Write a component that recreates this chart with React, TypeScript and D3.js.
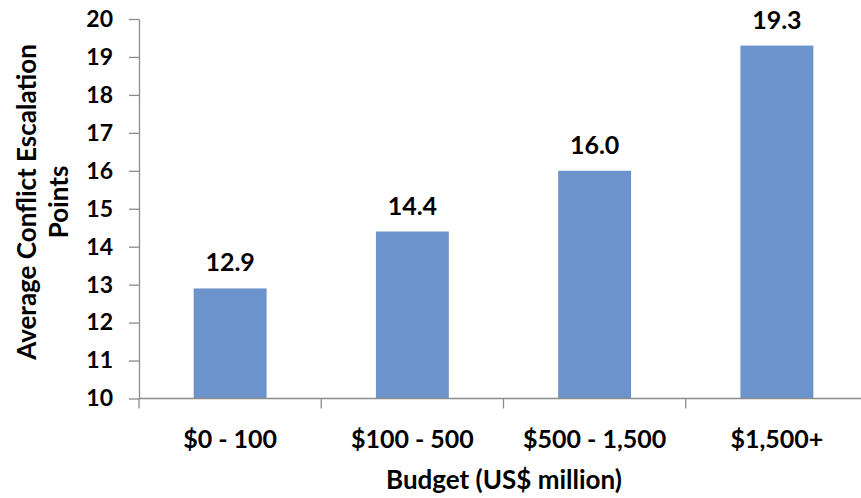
import React, { useEffect, useRef } from 'react';
import * as d3 from 'd3';

const categories = ['$0 - 100', '$100 - 500', '$500 - 1,500', '$1,500+'];
const values = [12.9, 14.4, 16.0, 19.3];
const yTicks = [10, 11, 12, 13, 14, 15, 16, 17, 18, 19, 20];
const yTitle = ['Average Conflict Escalation', 'Points'];
const xTitle = 'Budget (US$ million)';

const App: React.FC = () => {
  const svgRef = useRef<SVGSVGElement>(null);

  useEffect(() => {
    if (!svgRef.current) return;
    const svg = d3.select(svgRef.current);
    svg.selectAll('*').remove();

    const width = 861;
    const height = 498;
    const margin = { top: 19, right: -7, bottom: 99.5, left: 139 };
    const font = 'Lato, "Open Sans", sans-serif';
    const axisColor = '#8c8c8c';

    const x = d3.scaleBand<string>()
      .domain(categories)
      .range([margin.left, width - margin.right])
      .paddingInner(0.6)
      .paddingOuter(0.3);

    const y = d3.scaleLinear()
      .domain([10, 20])
      .range([height - margin.bottom, margin.top]);

    // Bars
    svg.append('g')
      .selectAll('rect')
      .data(values)
      .join('rect')
      .attr('x', (_, i) => x(categories[i])!)
      .attr('y', d => y(d))
      .attr('width', x.bandwidth())
      .attr('height', d => y(10) - y(d))
      .attr('fill', '#6C93CB');

    // Value labels
    svg.append('g')
      .selectAll('text')
      .data(values)
      .join('text')
      .attr('x', (_, i) => x(categories[i])! + x.bandwidth() / 2)
      .attr('y', d => y(d) - 17)
      .attr('text-anchor', 'middle')
      .attr('font-family', font)
      .attr('font-weight', 700)
      .attr('font-size', 25)
      .attr('fill', '#000')
      .text(d => d.toFixed(1));

    // Y axis
    const yAxis = svg.append('g')
      .attr('transform', `translate(${margin.left},0)`)
      .call(d3.axisLeft(y).tickValues(yTicks).tickSize(10).tickPadding(16).tickSizeOuter(0));
    yAxis.select('.domain').attr('stroke', axisColor).attr('stroke-width', 1.3);
    yAxis.selectAll('.tick line').attr('stroke', axisColor).attr('stroke-width', 1.3);
    yAxis.selectAll('.tick text')
      .attr('font-family', font)
      .attr('font-weight', 700)
      .attr('font-size', 23)
      .attr('fill', '#000');

    // X axis
    const step = x.step();
    const boundaries = d3.range(categories.length + 1).map(i => margin.left + i * step);
    svg.append('line')
      .attr('x1', margin.left)
      .attr('x2', width)
      .attr('y1', y(10))
      .attr('y2', y(10))
      .attr('stroke', axisColor)
      .attr('stroke-width', 1.3);
    svg.append('g')
      .selectAll('line')
      .data(boundaries)
      .join('line')
      .attr('x1', d => d)
      .attr('x2', d => d)
      .attr('y1', y(10))
      .attr('y2', y(10) + 10)
      .attr('stroke', axisColor)
      .attr('stroke-width', 1.3);

    svg.append('g')
      .selectAll('text')
      .data(categories)
      .join('text')
      .attr('x', d => x(d)! + x.bandwidth() / 2)
      .attr('y', 448)
      .attr('text-anchor', 'middle')
      .attr('font-family', font)
      .attr('font-weight', 700)
      .attr('font-size', 25)
      .attr('fill', '#000')
      .text(d => d);

    // Axis titles
    svg.append('text')
      .attr('x', 504)
      .attr('y', 489)
      .attr('text-anchor', 'middle')
      .attr('font-family', font)
      .attr('font-weight', 700)
      .attr('font-size', 26)
      .attr('fill', '#000')
      .text(xTitle);

    const yt = svg.append('text')
      .attr('transform', `translate(36,202) rotate(-90)`)
      .attr('text-anchor', 'middle')
      .attr('font-family', font)
      .attr('font-weight', 700)
      .attr('font-size', 26)
      .attr('fill', '#000');
    yTitle.forEach((line, i) => {
      yt.append('tspan')
        .attr('x', 0)
        .attr('dy', i === 0 ? 0 : 32)
        .text(line);
    });
  }, []);

  return (
    <svg
      ref={svgRef}
      width={861}
      height={498}
      viewBox="0 0 861 498"
      style={{ position: 'absolute', left: 0, top: 0, background: '#fff', display: 'block' }}
    />
  );
};

export default App;
